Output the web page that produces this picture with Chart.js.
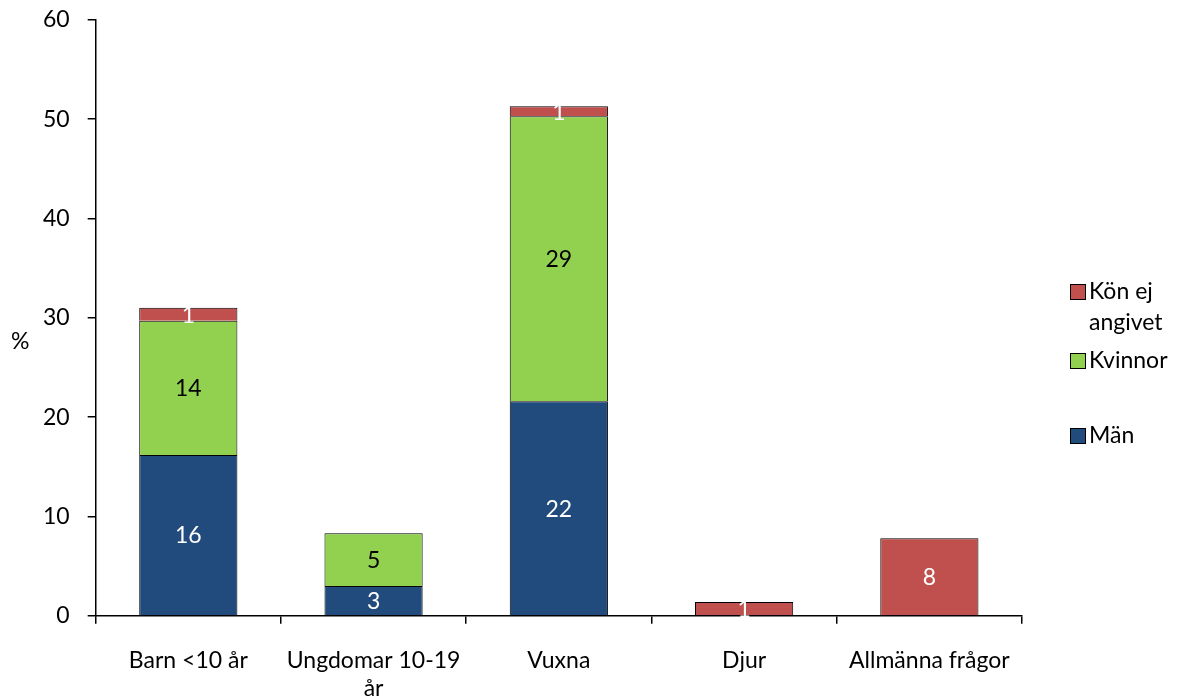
<html>
<head>
<meta charset="utf-8">
<style>
  html, body { margin: 0; padding: 0; background: #fff; overflow: hidden; }
  #wrap { position: relative; top: -12px; width: 1178px; height: 709px; }
</style>
</head>
<body>
<div id="wrap"><canvas id="myChart"></canvas></div>
<script src="https://cdn.jsdelivr.net/npm/chart.js@4.4.1/dist/chart.umd.min.js"></script>
<script>
    const categories = ["Barn <10 år", ["Ungdomar 10-19", "år"], "Vuxna", "Djur", "Allmänna frågor"];
    const man = [16.2, 3.0, 21.6, 0, 0];
    const kvinnor = [13.5, 5.3, 28.7, 0, 0];
    const konEjAngivet = [1.3, 0, 1.0, 1.4, 7.8];
    const yTicks = [0, 10, 20, 30, 40, 50, 60];

    const fontFam = "Lato, 'Liberation Sans', sans-serif";
    const fs = 23;
    const shift = 12; // canvas is moved up by this much

    // numbers inside the bars
    const barLabels = {
        id: "barLabels",
        afterDatasetsDraw(chart) {
            const ctx = chart.ctx;
            ctx.save();
            ctx.font = fs + "px " + fontFam;
            ctx.textAlign = "center";
            ctx.textBaseline = "middle";
            chart.data.datasets.forEach((ds, i) => {
                const meta = chart.getDatasetMeta(i);
                meta.data.forEach((bar, j) => {
                    const v = ds.data[j];
                    if (!v) return;
                    ctx.fillStyle = ds.labelColor;
                    ctx.fillText(Math.round(v), bar.x, (bar.y + bar.base) / 2 + 1);
                });
            });
            ctx.restore();
        }
    };

    // legend on the right + "%" axis title
    const sideText = {
        id: "sideText",
        afterDraw(chart) {
            const ctx = chart.ctx;
            ctx.save();
            ctx.font = fs + "px " + fontFam;
            ctx.fillStyle = "#000";
            ctx.textBaseline = "middle";
            ctx.textAlign = "left";
            ctx.fillText("%", 11, 342 + shift);
            const items = [
                { ds: 2, y: 292, lines: ["Kön ej", "angivet"] },
                { ds: 1, y: 361, lines: ["Kvinnor"] },
                { ds: 0, y: 436, lines: ["Män"] }
            ];
            items.forEach(it => {
                const ds = chart.data.datasets[it.ds];
                const y = it.y + shift;
                ctx.fillStyle = ds.backgroundColor;
                ctx.fillRect(1070, y - 8, 15, 15);
                ctx.strokeStyle = "#000";
                ctx.lineWidth = 1;
                ctx.strokeRect(1070.5, y - 7.5, 15, 15);
                ctx.fillStyle = "#000";
                it.lines.forEach((t, k) => ctx.fillText(t, 1089, y + k * 31));
            });
            ctx.restore();
        }
    };

    new Chart("myChart", {
        type: "bar",
        data: {
            labels: categories,
            datasets: [{
                label: "Män",
                data: man,
                backgroundColor: "#214B7C",
                borderColor: "#000",
                borderWidth: 1,
                labelColor: "#fff"
            }, {
                label: "Kvinnor",
                data: kvinnor,
                backgroundColor: "#92D050",
                borderColor: "#000",
                borderWidth: 1,
                labelColor: "#000"
            }, {
                label: "Kön ej angivet",
                data: konEjAngivet,
                backgroundColor: "#C0504D",
                borderColor: "#000",
                borderWidth: 1,
                labelColor: "#fff"
            }]
        },
        options: {
            responsive: true,
            maintainAspectRatio: false,
            animation: false,
            layout: { padding: { left: 25, right: 156, top: 0, bottom: -28 } },
            plugins: {
                legend: { display: false },
                tooltip: { enabled: false }
            },
            datasets: { bar: { barPercentage: 0.53, categoryPercentage: 1 } },
            scales: {
                x: {
                    stacked: true,
                    border: { color: "#000", width: 1.5 },
                    grid: { drawOnChartArea: false, drawTicks: true, tickLength: 8, color: "#000", lineWidth: 1.5, offset: true },
                    ticks: { color: "#000", font: { size: fs, family: fontFam, lineHeight: 1.2 }, padding: 23, maxRotation: 0 }
                },
                y: {
                    stacked: true,
                    min: 0,
                    max: 60,
                    afterBuildTicks(axis) { axis.ticks = yTicks.map(v => ({ value: v })); },
                    border: { color: "#000", width: 1.5 },
                    grid: { drawOnChartArea: false, drawTicks: true, tickLength: 8, color: "#000", lineWidth: 1.5 },
                    ticks: { color: "#000", font: { size: fs, family: fontFam }, padding: 18 }
                }
            }
        },
        plugins: [barLabels, sideText]
    });
</script>
</body>
</html>
